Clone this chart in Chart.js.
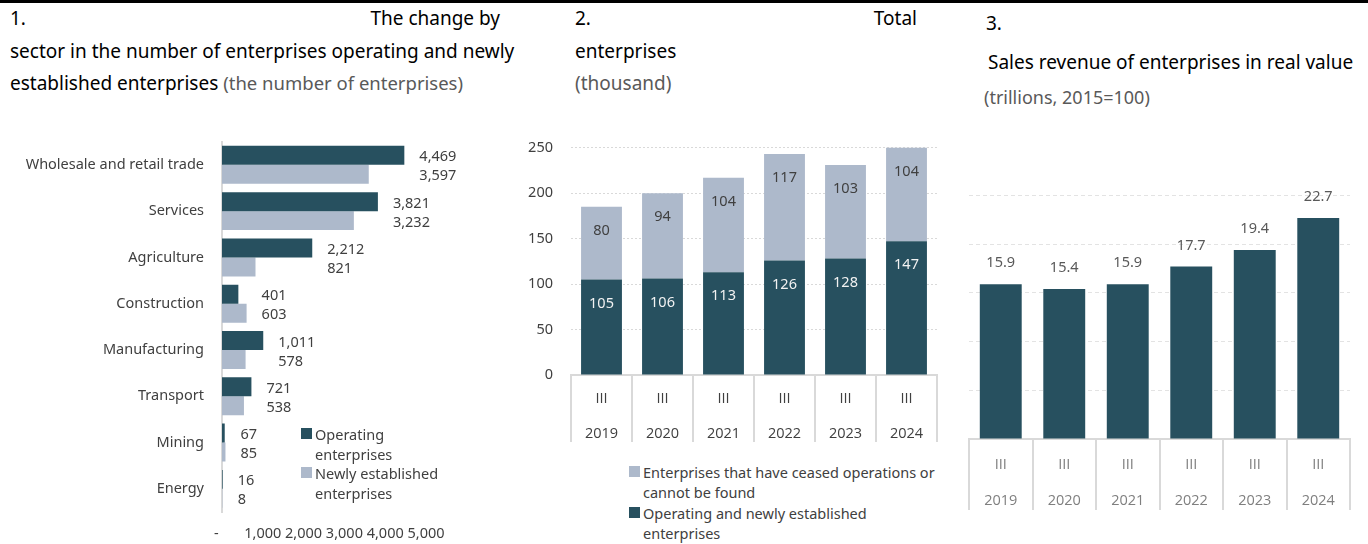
<!DOCTYPE html>
<html>
<head>
<meta charset="utf-8">
<script src="https://cdn.jsdelivr.net/npm/chart.js@4"></script>
<style>
  body { margin: 0; width: 1368px; height: 544px; overflow: hidden; background: #fff; position: relative; font-family: "Noto Sans", sans-serif; }
  .rule { position: absolute; left: 0; top: 0; width: 1368px; height: 3px; background: #000; }
  .t { position: absolute; font-size: 19px; line-height: 32.5px; color: #000; white-space: nowrap; }
  .row { display: flex; justify-content: space-between; }
  .sub { color: #595959; }
  canvas { position: absolute; }
  .lg { position: absolute; font-size: 14.5px; line-height: 20px; color: #404040; white-space: nowrap; }
  .sw { position: absolute; width: 11px; height: 11px; }
</style>
</head>
<body>
<div class="rule"></div>

<div class="t" style="left:10px;top:2px;width:490px">
  <div class="row"><span>1.</span><span>The change by</span></div>
  <div>sector in the number of enterprises operating and newly</div>
  <div>established enterprises <span class="sub" style="font-size:18.5px">(the number of enterprises)</span></div>
</div>
<div class="t" style="left:575px;top:2px;width:342px">
  <div class="row"><span>2.</span><span>Total</span></div>
  <div>enterprises</div>
  <div class="sub">(thousand)</div>
</div>
<div class="t" style="left:986px;top:7px">3.</div>
<div class="t" style="left:988px;top:46px">Sales revenue of enterprises in real value</div>
<div class="t sub" style="left:984px;top:81px;font-size:18px">(trillions, 2015=100)</div>

<canvas id="c1" width="520" height="437" style="left:0;top:115px"></canvas>
<canvas id="c2" width="430" height="339" style="left:520px;top:121px"></canvas>
<canvas id="c3" width="400" height="380" style="left:960px;top:150px"></canvas>

<div class="sw" style="left:301px;top:428px;background:#27505f"></div>
<div class="lg" style="left:315px;top:424px">Operating<br>enterprises</div>
<div class="sw" style="left:301px;top:467px;background:#adb9cb"></div>
<div class="lg" style="left:315px;top:463px">Newly established<br>enterprises</div>

<div class="sw" style="left:629px;top:466px;background:#adb9cb"></div>
<div class="lg" style="left:643px;top:462px">Enterprises that have ceased operations or<br>cannot be found</div>
<div class="sw" style="left:629px;top:507px;background:#27505f"></div>
<div class="lg" style="left:643px;top:503px">Operating and newly established<br>enterprises</div>

<script>
const DARK = '#27505f';
const LIGHT = '#adb9cb';
const FONT = '"Noto Sans", sans-serif';
const PERIOD_FONT = '"Open Sans", sans-serif';

// chart 1: enterprises by sector
const sectors = ['Wholesale and retail trade', 'Services', 'Agriculture', 'Construction', 'Manufacturing', 'Transport', 'Mining', 'Energy'];
const operating = [4469, 3821, 2212, 401, 1011, 721, 67, 16];
const newlyEstablished = [3597, 3232, 821, 603, 578, 538, 85, 8];
const sectorTicks = [0, 1000, 2000, 3000, 4000, 5000];

// chart 2: total enterprises, thousand
const periods = [['III', '2019'], ['III', '2020'], ['III', '2021'], ['III', '2022'], ['III', '2023'], ['III', '2024']];
const activeEnterprises = [105, 106, 113, 126, 128, 147];
const ceasedEnterprises = [80, 94, 104, 117, 103, 104];

// chart 3: sales revenue, trillions at 2015 prices
const salesRevenue = [15.9, 15.4, 15.9, 17.7, 19.4, 22.7];

Chart.defaults.font.family = FONT;
Chart.defaults.color = '#404040';

const fmt = n => n.toLocaleString('en-US');

// value labels beside each sector pair, aligned past the longer bar
const sectorLabels = {
  id: 'sectorLabels',
  afterDatasetsDraw(chart) {
    const { ctx } = chart;
    const a = chart.getDatasetMeta(0).data;
    const b = chart.getDatasetMeta(1).data;
    ctx.save();
    ctx.font = '14.5px ' + FONT;
    ctx.fillStyle = '#404040';
    ctx.textAlign = 'left';
    ctx.textBaseline = 'middle';
    a.forEach((bar, i) => {
      const x = Math.max(bar.x, b[i].x) + 15;
      ctx.fillText(fmt(operating[i]), x, bar.y + 2);
      ctx.fillText(fmt(newlyEstablished[i]), x, b[i].y + 2);
    });
    ctx.restore();
  }
};

// labels inside stacked segments, a fixed distance below each segment top
const stackLabels = {
  id: 'stackLabels',
  afterDatasetsDraw(chart) {
    const { ctx } = chart;
    ctx.save();
    ctx.font = '14.5px ' + FONT;
    ctx.textAlign = 'center';
    ctx.textBaseline = 'middle';
    chart.data.datasets.forEach((ds, d) => {
      ctx.fillStyle = d === 0 ? '#f2f2f2' : '#404040';
      chart.getDatasetMeta(d).data.forEach((bar, i) => {
        ctx.fillText(String(ds.data[i]), bar.x, Math.max(bar.y, chart.chartArea.top) + 24);
      });
    });
    ctx.restore();
  }
};

// labels above the bars
const topLabels = {
  id: 'topLabels',
  afterDatasetsDraw(chart) {
    const { ctx } = chart;
    ctx.save();
    ctx.font = '14.5px ' + FONT;
    ctx.fillStyle = '#595959';
    ctx.textAlign = 'center';
    ctx.textBaseline = 'middle';
    chart.getDatasetMeta(0).data.forEach((bar, i) => {
      ctx.fillText(salesRevenue[i].toFixed(1), bar.x, bar.y - 21);
    });
    ctx.restore();
  }
};

const quiet = { legend: { display: false }, tooltip: { enabled: false } };

new Chart(document.getElementById('c1'), {
  type: 'bar',
  data: {
    labels: sectors,
    datasets: [
      { label: 'Operating enterprises', data: operating, backgroundColor: DARK },
      { label: 'Newly established enterprises', data: newlyEstablished, backgroundColor: LIGHT }
    ]
  },
  options: {
    indexAxis: 'y',
    responsive: false,
    animation: false,
    layout: { padding: { left: 0, top: 0, right: 94, bottom: 0 } },
    datasets: { bar: { categoryPercentage: 0.82, barPercentage: 1 } },
    plugins: quiet,
    scales: {
      x: {
        min: 0, max: 5000,
        afterBuildTicks: s => { s.ticks = sectorTicks.map(v => ({ value: v })); },
        ticks: { callback: v => v === 0 ? '-   ' : fmt(v), font: { size: 14.5 }, padding: 13, maxRotation: 0 },
        grid: { display: false, drawTicks: false },
        border: { display: false },
        afterFit: s => { s.height = 40; }
      },
      y: {
        ticks: { font: { size: 14.5 }, padding: 18, autoSkip: false },
        grid: { display: false, drawTicks: false },
        border: { color: '#d9d9d9', width: 2 },
        afterFit: s => { s.width = 222; }
      }
    }
  },
  plugins: [sectorLabels]
});

new Chart(document.getElementById('c2'), {
  type: 'bar',
  data: {
    labels: periods,
    datasets: [
      { label: 'Operating and newly established enterprises', data: activeEnterprises, backgroundColor: DARK },
      { label: 'Enterprises that have ceased operations or cannot be found', data: ceasedEnterprises, backgroundColor: LIGHT }
    ]
  },
  options: {
    responsive: false,
    animation: false,
    layout: { padding: { left: 0, top: 0, right: 13, bottom: 5 } },
    datasets: { bar: { categoryPercentage: 1, barPercentage: 0.67 } },
    plugins: quiet,
    scales: {
      x: {
        stacked: true,
        ticks: { font: { family: PERIOD_FONT, size: 14.5, lineHeight: 2.47 }, padding: -61.5, maxRotation: 0, autoSkip: false },
        grid: { drawOnChartArea: false, drawTicks: true, tickLength: 67, color: '#d9d9d9', lineWidth: 2 },
        border: { color: '#d9d9d9', width: 2 },
        afterFit: s => { s.height = 80; }
      },
      y: {
        stacked: true,
        min: 0, max: 250,
        ticks: { stepSize: 50, font: { size: 14.5 }, padding: 18 },
        grid: { color: '#d9d9d9', drawTicks: false },
        border: { display: false, dash: [2, 2] },
        afterFit: s => { s.width = 51; }
      }
    }
  },
  plugins: [stackLabels]
});

new Chart(document.getElementById('c3'), {
  type: 'bar',
  data: {
    labels: periods,
    datasets: [{ label: 'Sales revenue', data: salesRevenue, backgroundColor: DARK }]
  },
  options: {
    responsive: false,
    animation: false,
    layout: { padding: { left: 9, top: 45.5, right: 10, bottom: 11 } },
    datasets: { bar: { categoryPercentage: 1, barPercentage: 0.66 } },
    plugins: quiet,
    scales: {
      x: {
        ticks: { color: '#7f7f7f', font: { family: PERIOD_FONT, size: 14.5, lineHeight: 2.48 }, padding: -63, maxRotation: 0, autoSkip: false },
        grid: { drawOnChartArea: false, drawTicks: true, tickLength: 71, color: '#d9d9d9', lineWidth: 2 },
        border: { color: '#d9d9d9', width: 2 },
        afterFit: s => { s.height = 80; }
      },
      y: {
        min: 0, max: 25,
        ticks: { display: false, stepSize: 5 },
        grid: { color: '#e3e3e3', drawTicks: false },
        border: { display: false, dash: [4, 3] },
        afterFit: s => { s.width = 0; }
      }
    }
  },
  plugins: [topLabels]
});
</script>
</body>
</html>
